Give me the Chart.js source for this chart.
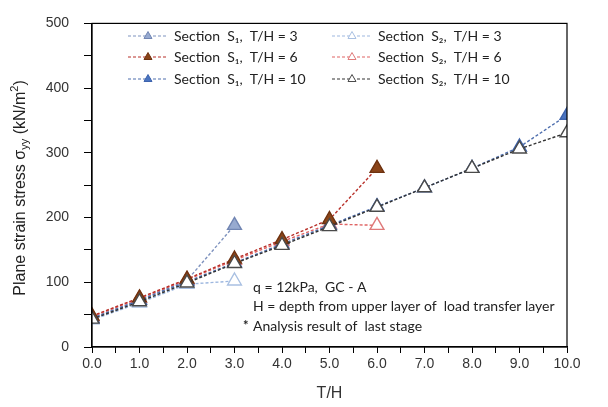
<!DOCTYPE html>
<html>
<head>
<meta charset="utf-8">
<script src="https://cdn.jsdelivr.net/npm/chart.js@4"></script>
<style>
  html, body { margin: 0; padding: 0; background: #fff; }
  #wrap { width: 608px; height: 407px; }
</style>
</head>
<body>
<div id="wrap"><canvas id="stressChart" width="608" height="407"></canvas></div>
<script>
// datos
const thShort = [0, 1, 2, 3];
const thMid = [0, 1, 2, 3, 4, 5, 6];
const thLong = [0, 1, 2, 3, 4, 5, 6, 7, 8, 9, 10];

const s1th3 = [45, 73, 103, 188];
const s2th3 = [42, 68, 97, 102];
const s1th6 = [48, 76, 105, 136, 166, 197, 276];
const s2th6 = [47, 75, 104, 134, 163, 190, 188];
const s1th10 = [44, 72, 101, 130, 159, 188, 217, 246, 276, 309, 358];
const s2th10 = [43, 70, 99, 129, 157, 186, 216, 246, 276, 306, 331];

const xTicks = [0, 1, 2, 3, 4, 5, 6, 7, 8, 9, 10];
const yTicks = [0, 100, 200, 300, 400, 500];

const legendLabels = [
    'Section  S\u2081,  T/H = 3', 'Section  S\u2081,  T/H = 6', 'Section  S\u2081,  T/H = 10',
    'Section  S\u2082,  T/H = 3', 'Section  S\u2082,  T/H = 6', 'Section  S\u2082,  T/H = 10'
];

const notes = [
    'q = 12kPa,  GC - A',
    'H = depth from upper layer of  load transfer layer',
    'Analysis result of  last stage'
];

function toXY(xs, ys) {
    return ys.map((y, i) => ({ x: xs[i], y: y }));
}

function serie(label, xs, ys, line, border, fill, order) {
    return {
        label: label,
        data: toXY(xs, ys),
        borderColor: line,
        borderWidth: 1.4,
        borderDash: [3, 2],
        pointStyle: 'triangle',
        pointRadius: 8,
        pointHoverRadius: 8,
        pointBorderColor: border,
        pointBackgroundColor: fill,
        pointBorderWidth: 1.4,
        showLine: true,
        fill: false,
        order: order
    };
}

const datasets = [
    serie(legendLabels[0], thShort, s1th3, '#7f93bf', '#7286b3', '#97aad0', 5),
    serie(legendLabels[1], thMid, s1th6, '#b8312a', '#6e3210', '#8a4418', 2),
    serie(legendLabels[2], thLong, s1th10, '#4f6fae', '#3d63ad', '#4a74c0', 3),
    serie(legendLabels[3], thShort, s2th3, '#9db7df', '#a9c0e2', '#ffffff', 6),
    serie(legendLabels[4], thMid, s2th6, '#e06464', '#df7a7a', '#ffffff', 4),
    serie(legendLabels[5], thLong, s2th10, '#333333', '#4a4a4a', '#ffffff', 1)
];

// leyenda en dos columnas, marco y textos
const extras = {
    id: 'extras',
    afterDraw(chart) {
        const ctx = chart.ctx;
        const a = chart.chartArea;
        ctx.save();
        ctx.strokeStyle = '#000';
        ctx.lineWidth = 1.2;
        ctx.strokeRect(a.left, a.top, a.right - a.left, a.bottom - a.top);

        // leyenda
        const cols = [128, 332];
        const rows = [36, 57, 79];
        ctx.font = '14px Lato';
        ctx.textBaseline = 'middle';
        datasets.forEach((ds, i) => {
            const x0 = cols[Math.floor(i / 3)];
            const y0 = rows[i % 3];
            ctx.setLineDash([3, 2]);
            ctx.strokeStyle = ds.borderColor;
            ctx.lineWidth = 1.2;
            ctx.beginPath();
            ctx.moveTo(x0, y0);
            ctx.lineTo(x0 + 40, y0);
            ctx.stroke();
            ctx.setLineDash([]);
            ctx.lineWidth = 1;
            ctx.fillStyle = ds.pointBackgroundColor;
            ctx.strokeStyle = ds.pointBorderColor;
            ctx.beginPath();
            ctx.moveTo(x0 + 20, y0 - 4.5);
            ctx.lineTo(x0 + 24, y0 + 2.5);
            ctx.lineTo(x0 + 16, y0 + 2.5);
            ctx.closePath();
            ctx.fill();
            ctx.stroke();
            ctx.fillStyle = '#222';
            ctx.fillText(ds.label, x0 + 46, y0);
        });

        // notas
        ctx.fillStyle = '#222';
        ctx.font = '14px Lato';
        ctx.fillText(notes[0], 253, 287);
        ctx.fillText(notes[1], 253, 306);
        ctx.fillText(notes[2], 253, 326);
        ctx.font = 'bold 13px Lato';
        ctx.fillText('*', 243, 326);

        // titulo eje y con subindices
        ctx.translate(21, 188);
        ctx.rotate(-Math.PI / 2);
        ctx.fillStyle = '#222';
        const f1 = '16px "Liberation Sans"';
        const f2 = '11px "Liberation Sans"';
        const parts = [
            ['Plane strain stress \u03c3', f1, 0],
            ['yy', f2, 4],
            [' (kN/m', f1, 0],
            ['2', f2, -6],
            [')', f1, 0]
        ];
        let total = 0;
        parts.forEach(p => { ctx.font = p[1]; total += ctx.measureText(p[0]).width; });
        let x = -total / 2;
        parts.forEach(p => {
            ctx.font = p[1];
            ctx.fillText(p[0], x, p[2]);
            x += ctx.measureText(p[0]).width;
        });
        ctx.restore();
    }
};

const ctx = document.getElementById('stressChart').getContext('2d');
new Chart(ctx, {
    type: 'scatter',
    data: { datasets: datasets },
    options: {
        responsive: false,
        animation: false,
        layout: { padding: { top: 15, right: 41, left: 0, bottom: 0 } },
        plugins: {
            legend: { display: false },
            tooltip: { enabled: false }
        },
        scales: {
            x: {
                type: 'linear',
                min: 0,
                max: 10,
                afterFit: s => { s.height = 60; },
                afterBuildTicks: s => {
                    const t = [];
                    for (let v = 0; v <= 10; v += 0.5) t.push({ value: v });
                    s.ticks = t;
                },
                ticks: {
                    autoSkip: false,
                    maxRotation: 0,
                    padding: 3,
                    color: '#333',
                    font: { family: 'Liberation Sans', size: 14 },
                    callback: v => xTicks.includes(v) ? v.toFixed(1) : ''
                },
                grid: { drawOnChartArea: false, drawTicks: true, tickLength: 6, color: '#000' },
                border: { display: true, color: '#000', width: 1.2 },
                title: {
                    display: true,
                    text: 'T/H',
                    color: '#333',
                    padding: { top: 14 },
                    font: { family: 'Liberation Sans', size: 16 }
                }
            },
            y: {
                min: 0,
                max: 500,
                afterFit: s => { s.width = 92; },
                afterBuildTicks: s => {
                    const t = [];
                    for (let v = 0; v <= 500; v += 50) t.push({ value: v });
                    s.ticks = t;
                },
                ticks: {
                    autoSkip: false,
                    padding: 15,
                    color: '#333',
                    font: { family: 'Liberation Sans', size: 14 },
                    callback: v => yTicks.includes(v) ? String(v) : ''
                },
                grid: { drawOnChartArea: false, drawTicks: true, tickLength: 8, color: '#000' },
                border: { display: true, color: '#000', width: 1.2 }
            }
        }
    },
    plugins: [extras]
});
</script>
</body>
</html>
